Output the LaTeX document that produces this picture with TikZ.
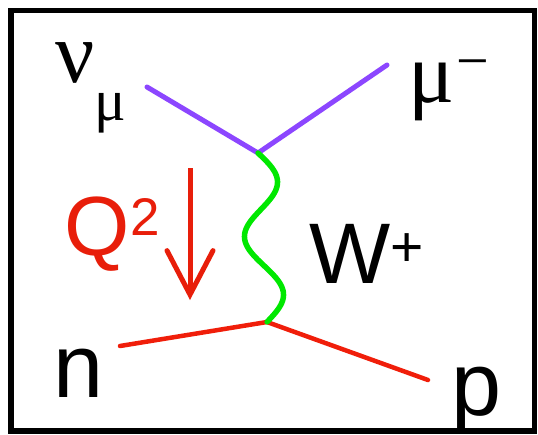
\documentclass[tikz,border=0pt]{standalone}
\usepackage{fontspec}
\setmainfont{Liberation Sans}
\newfontfamily\greekfont{Liberation Serif}
\usetikzlibrary{arrows.meta,calc}
\definecolor{lep}{RGB}{140,70,255}
\definecolor{wcol}{RGB}{0,232,0}
\definecolor{hadr}{RGB}{240,30,10}
\definecolor{qred}{RGB}{232,30,10}
\tikzset{
  lepton/.style={draw=lep,line width=5pt,line cap=round,line join=round},
  hadron/.style={draw=hadr,line width=4.5pt,line cap=round,line join=round},
  wboson/.style={draw=wcol,line width=5.5pt,line cap=round},
  lab/.style={inner sep=0pt,anchor=base,font=\fontsize{90}{90}\selectfont},
  glab/.style={inner sep=0pt,anchor=base},
}
\begin{document}
\begin{tikzpicture}[x=1pt,y=-1pt]
\useasboundingbox (0,0) rectangle (538,434);
\draw[line width=5.5pt] (11,10.5) rectangle (534.5,431);
% vertices and ends
\coordinate (v1) at (258,153);
\coordinate (v2) at (267,322);
\coordinate (nu) at (147,87);
\coordinate (mu) at (387,65);
\coordinate (ni) at (120,346);
\coordinate (po) at (428,380);
\coordinate (qa) at (190,168);
\coordinate (qb) at (190,300);
% lines
\draw[lepton] (nu) -- (v1) -- (mu);
\draw[hadron] (ni) -- (v2) -- (po);
\draw[wboson] let \p1=(v1), \p2=(v2) in
  plot[domain=0:1,samples=90,variable=\t,smooth]
  ({\x1+(\x2-\x1)*\t+18pt*sin(540*\t)},{\y1+(\y2-\y1)*\t});
\draw[draw=qred,line width=5pt,-{Straight Barb[length=44pt,width=46pt,line cap=round]}] (qa) -- (qb);
% labels
\node[lab] (n) at (79,397) {n};
\node[lab] (p) at (477,415) {p};
\node[lab,font=\fontsize{86}{86}\selectfont] (W) at (350,283) {W};
\node[glab,font=\fontsize{57}{57}\selectfont] (Wp) at (407,266) {+};
\node[lab,text=qred,font=\fontsize{84}{84}\selectfont] (Q) at (97,255) {Q};
\node[glab,text=qred,font=\fontsize{53}{53}\selectfont] (Q2) at (145,235) {2};
\node[glab,font=\fontsize{86}{86}\selectfont\greekfont] (mul) at (432,102) {μ};
\node[glab,font=\fontsize{58}{58}\selectfont\greekfont] (mum) at (473,80) {−};
\node[glab,font=\fontsize{87}{87}\selectfont\greekfont] (nul) at (75,82) {ν};
\node[glab,font=\fontsize{59}{59}\selectfont\greekfont] (nus) at (110,120) {μ};
\end{tikzpicture}
\end{document}
